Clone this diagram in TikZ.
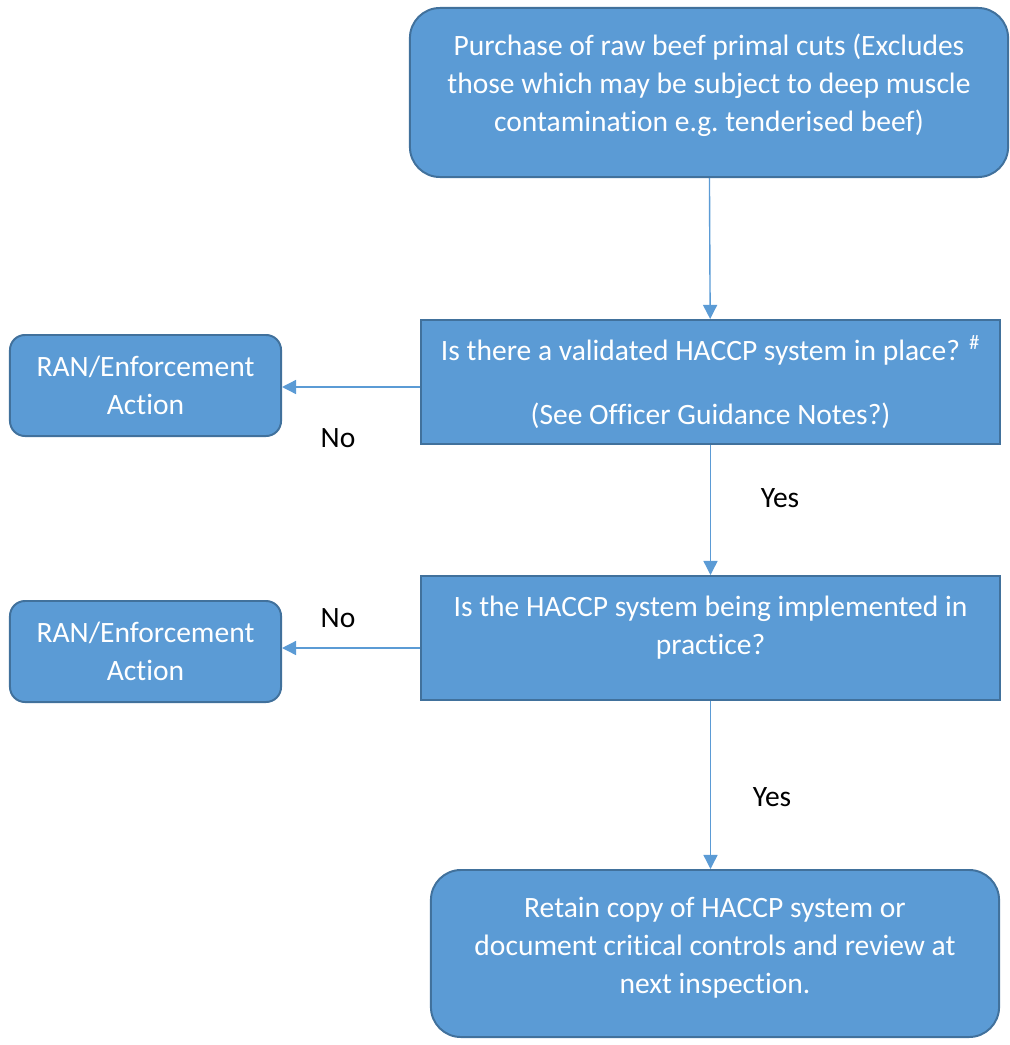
\documentclass[tikz,border=0pt]{standalone}
\usepackage{fontspec}
\setmainfont{Carlito}[Ligatures={NoCommon,NoContextual}]
\usetikzlibrary{positioning,arrows.meta}
\definecolor{boxfill}{HTML}{5B9BD5}
\definecolor{boxline}{HTML}{41719C}

\begin{document}
\begin{tikzpicture}[x=0.025cm,y=-0.025cm,
        every node/.style={font=\fontsize{21}{27}\selectfont},
        stepbox/.style={draw=boxline,fill=boxfill,line width=1.4pt,text=white,align=center},
        flow/.style={draw=boxfill,line width=1pt,-{Triangle[width=10pt,length=10pt]}}]
        \useasboundingbox (0,0) rectangle (1010,1045);
        \node[stepbox,rounded corners=0.75cm,minimum width=14.95cm,minimum height=4.225cm,text depth=13.5pt] (buy) at (709,92.5) {Purchase of raw beef primal cuts (Excludes\\those which may be subject to deep muscle\\contamination e.g.\ tenderised beef)};
        \node[stepbox,minimum width=14.475cm,minimum height=3.1cm] (valid) at (710.5,382) {Is there a validated HACCP system in place? \textsuperscript{\#}\\[0.65cm](See Officer Guidance Notes?)};
        \node[stepbox,minimum width=14.475cm,minimum height=3.1cm,text depth=17.5pt] (impl) at (710.5,638) {Is the HACCP system being implemented in\\practice?};
        \node[stepbox,rounded corners=0.375cm,minimum width=6.775cm,minimum height=2.525cm] (ran1) at (145.5,385.5) {RAN/Enforcement\\Action};
        \node[stepbox,rounded corners=0.375cm,minimum width=6.775cm,minimum height=2.525cm] (ran2) at (145.5,651.5) {RAN/Enforcement\\Action};
        \node[stepbox,rounded corners=0.75cm,minimum width=14.2cm,minimum height=4.175cm,text depth=12pt] (keep) at (715,953.5) {Retain copy of HACCP system or\\document critical controls and review at\\next inspection.};
        \draw[flow] (buy) -- (valid);
        \draw[flow] (valid) -- (impl);
        \draw[flow] (impl.south) -- (impl.south |- keep.north);
        \draw[flow] ([yshift=-0.125cm]valid.west) -- ([yshift=-0.125cm]valid.west -| ran1.east);
        \draw[flow] ([yshift=-0.25cm]impl.west) -- ([yshift=-0.25cm]impl.west -| ran2.east);
        \node (no1) at (338,438) {No};
        \node (yes1) at (780,498) {Yes};
        \node (no2) at (338,618) {No};
        \node (yes2) at (772,797) {Yes};
\end{tikzpicture}
\end{document}
